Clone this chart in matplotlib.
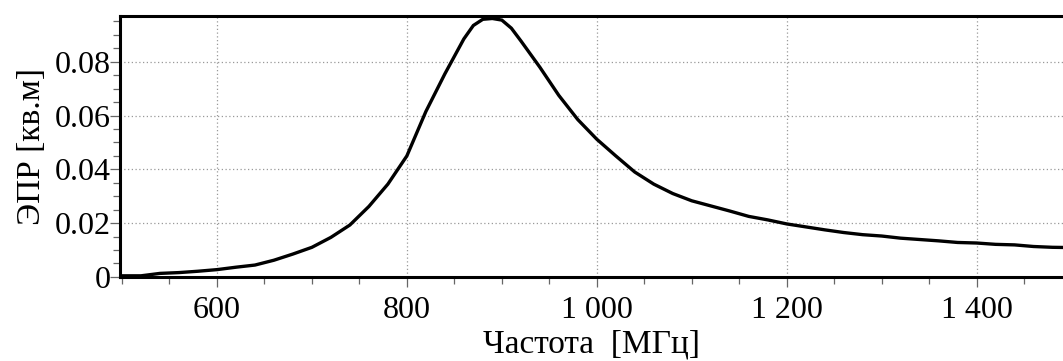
import matplotlib
matplotlib.use("Agg")
import matplotlib.pyplot as plt
from matplotlib.ticker import MultipleLocator, FuncFormatter

# frequency [MHz] and RCS [sq.m]
freq = [500, 520, 540, 560, 580, 600, 620, 640, 660, 680, 700, 720, 740, 760,
        780, 800, 820, 840, 860, 870, 880, 890, 900, 910, 920, 940, 960, 980,
        1000, 1020, 1040, 1060, 1080, 1100, 1120, 1140, 1160, 1180, 1200, 1220,
        1240, 1260, 1280, 1300, 1320, 1340, 1360, 1380, 1400, 1420, 1440, 1460,
        1480, 1500]
rcs = [0.0004, 0.0004, 0.0013, 0.0016, 0.0021, 0.0027, 0.0036, 0.0044, 0.0062,
       0.0085, 0.0110, 0.0147, 0.0193, 0.0262, 0.0345, 0.0450, 0.0615, 0.0755,
       0.0885, 0.0935, 0.0958, 0.0961, 0.0955, 0.0925, 0.0878, 0.0780, 0.0675,
       0.0585, 0.0512, 0.0450, 0.0390, 0.0345, 0.0310, 0.0283, 0.0264, 0.0245,
       0.0225, 0.0212, 0.0197, 0.0186, 0.0175, 0.0165, 0.0157, 0.0152, 0.0144,
       0.0139, 0.0134, 0.0128, 0.0126, 0.0121, 0.0119, 0.0113, 0.0110, 0.0109]

xlabel = "Частота  [МГц]"
ylabel = "ЭПР [кв.м]"

plt.rcParams['font.family'] = ['Liberation Serif', 'DejaVu Serif']

fig = plt.figure(figsize=(10.63, 3.61), dpi=100)
ax = fig.add_axes([0.113, 0.233, 0.887, 0.724])

ax.plot(freq, rcs, color='black', lw=2.4, solid_joinstyle='miter')

ax.set_xlim(498, 1491)
ax.set_ylim(0, 0.0972)

ax.xaxis.set_major_locator(MultipleLocator(200))
ax.xaxis.set_minor_locator(MultipleLocator(50))
ax.yaxis.set_major_locator(MultipleLocator(0.02))
ax.yaxis.set_minor_locator(MultipleLocator(0.005))
ax.xaxis.set_major_formatter(FuncFormatter(lambda v, p: f"{int(round(v)):,}".replace(",", " ")))
ax.yaxis.set_major_formatter(FuncFormatter(lambda v, p: f"{v:g}"))

ax.grid(True, which='major', color='#999999', linestyle=(0, (1, 2)), lw=0.9)

for side in ['left', 'bottom', 'top']:
    ax.spines[side].set_linewidth(2.2)
ax.spines['right'].set_visible(False)

ax.tick_params(axis='both', which='major', labelsize=23, length=7, width=0.9,
               color='#666666', pad=2)
ax.tick_params(axis='both', which='minor', length=5, width=0.9, color='#666666')
ax.tick_params(axis='x', which='major', pad=7)
ax.tick_params(axis='y', which='major', pad=0)

ax.set_xlabel(xlabel, fontsize=24, labelpad=3)
ax.set_ylabel(ylabel, fontsize=24, labelpad=5)

fig.savefig("out.png", dpi=100)
